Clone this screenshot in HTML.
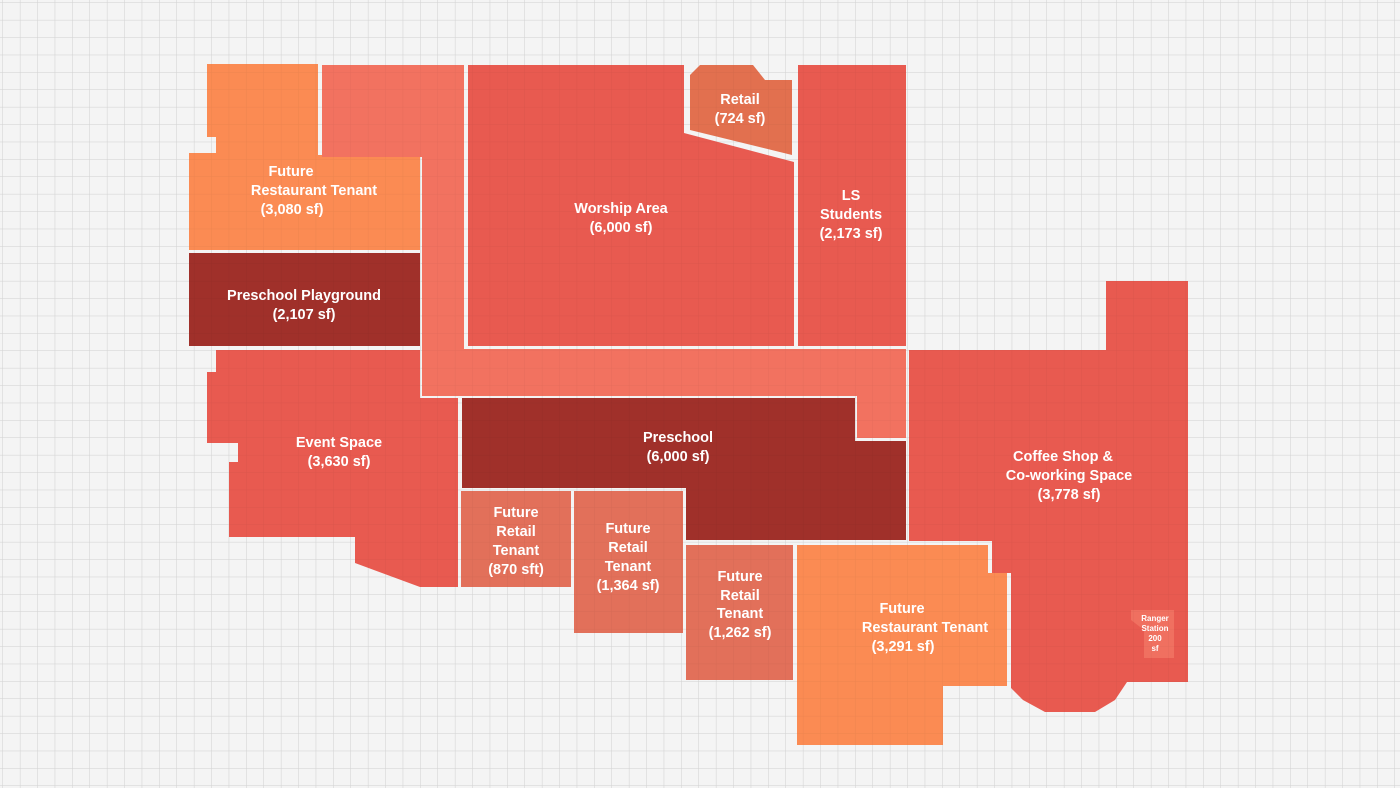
<!DOCTYPE html>
<html><head><meta charset="utf-8"><style>
html,body{margin:0;padding:0;background:#f3f3f3;}
svg{display:block}
text{font-family:"Liberation Sans",sans-serif;font-weight:bold;fill:#fff;text-anchor:middle;font-size:14.5px}
</style></head><body>
<svg width="1400" height="788" viewBox="0 0 1400 788">
<defs>
<pattern id="g" width="17.4" height="17.4" patternUnits="userSpaceOnUse" x="3" y="3">
<path d="M17.4 0V17.4H0" fill="none" stroke="#dcdcdc" stroke-width="1"/>
</pattern>
<pattern id="g2" width="17.4" height="17.4" patternUnits="userSpaceOnUse" x="3" y="3">
<path d="M17.4 0V17.4H0" fill="none" stroke="rgba(0,0,0,0.05)" stroke-width="1"/>
</pattern>
</defs>
<rect width="1400" height="788" fill="#f4f4f4"/>
<rect width="1400" height="788" fill="url(#g)"/>
<g>
<polygon fill="#fb8b53" points="207,64 318,64 318,155 420,155 420,250 189,250 189,153 216,153 216,137 207,137"/>
<polygon fill="#f27260" points="322,65 464,65 464,349 906,349 906,438 857,438 857,396 422,396 422,157 322,157"/>
<polygon fill="#e85a50" points="468,65 684,65 684,133 794,162 794,346 468,346"/>
<polygon fill="#e2704f" points="690,75 700,65 753,65 765,80 792,80 792,155 690,130"/>
<rect x="798" y="65" width="108" height="281" fill="#e85a50"/>
<rect x="189" y="253" width="231" height="93" fill="#a0302a"/>
<polygon fill="#e85a50" points="216,350 420,350 420,398 458,398 458,587 420,587 355,563 355,537 229,537 229,462 238,462 238,443 207,443 207,372 216,372"/>
<polygon fill="#a0302a" points="462,398 855,398 855,441 906,441 906,540 686,540 686,488 462,488"/>
<rect x="461" y="491" width="110" height="96" fill="#e2705a"/>
<rect x="574" y="491" width="109" height="142" fill="#e2705a"/>
<rect x="686" y="545" width="107" height="135" fill="#e2705a"/>
<polygon fill="#fb8b53" points="797,545 988,545 988,573 1007,573 1007,686 943,686 943,745 797,745"/>
<polygon fill="#e85a50" points="1106,281 1188,281 1188,682 1127,682 1115,700 1095,712 1045,712 1023,700 1011,688 1011,573 992,573 992,541 909,541 909,350 1106,350"/>
<polygon fill="#f07060" points="1131,610 1174,610 1174,658 1144,658 1144,630 1131,620"/>
</g>
<rect width="1400" height="788" fill="url(#g2)"/>
<text x="291" y="176">Future</text>
<text x="314" y="195">Restaurant Tenant</text>
<text x="292" y="214">(3,080 sf)</text>
<text x="304" y="300">Preschool Playground</text>
<text x="304" y="319">(2,107 sf)</text>
<text x="621" y="213">Worship Area</text>
<text x="621" y="232">(6,000 sf)</text>
<text x="740" y="104">Retail</text>
<text x="740" y="123">(724 sf)</text>
<text x="851" y="200">LS</text>
<text x="851" y="219">Students</text>
<text x="851" y="238">(2,173 sf)</text>
<text x="339" y="447">Event Space</text>
<text x="339" y="466">(3,630 sf)</text>
<text x="678" y="442">Preschool</text>
<text x="678" y="461">(6,000 sf)</text>
<text x="1063" y="461">Coffee Shop &amp;</text>
<text x="1069" y="480">Co-working Space</text>
<text x="1069" y="499">(3,778 sf)</text>
<text x="516" y="517">Future</text>
<text x="516" y="536">Retail</text>
<text x="516" y="555">Tenant</text>
<text x="516" y="574">(870 sft)</text>
<text x="628" y="533">Future</text>
<text x="628" y="552">Retail</text>
<text x="628" y="571">Tenant</text>
<text x="628" y="590">(1,364 sf)</text>
<text x="740" y="581">Future</text>
<text x="740" y="600">Retail</text>
<text x="740" y="618">Tenant</text>
<text x="740" y="637">(1,262 sf)</text>
<text x="902" y="613">Future</text>
<text x="925" y="632">Restaurant Tenant</text>
<text x="903" y="651">(3,291 sf)</text>
<text x="1155" y="621" style="font-size:8px">Ranger</text>
<text x="1155" y="631" style="font-size:8px">Station</text>
<text x="1155" y="641" style="font-size:8px">200</text>
<text x="1155" y="651" style="font-size:8px">sf</text>
</svg>
</body></html>
